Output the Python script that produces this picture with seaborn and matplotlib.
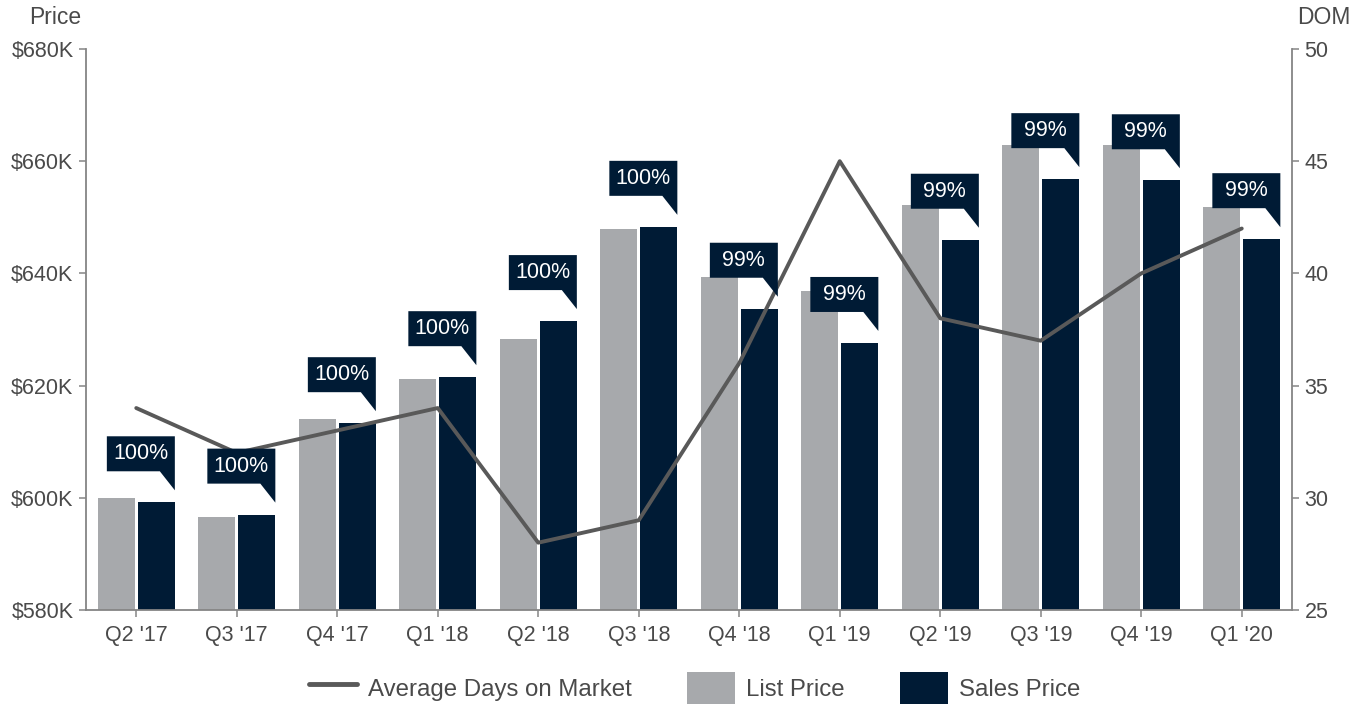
import numpy as np
import pandas as pd
import matplotlib.pyplot as plt
from matplotlib.patches import Polygon, Patch
from matplotlib.lines import Line2D
import seaborn as sns

# data (prices in $K)
quarters = ["Q2 '17", "Q3 '17", "Q4 '17", "Q1 '18", "Q2 '18", "Q3 '18",
            "Q4 '18", "Q1 '19", "Q2 '19", "Q3 '19", "Q4 '19", "Q1 '20"]
list_price = [600.0, 596.6, 614.0, 621.2, 628.3, 647.9, 639.4, 636.9, 652.2, 662.9, 662.9, 651.8]
sales_price = [599.2, 597.0, 613.3, 621.5, 631.5, 648.3, 633.7, 627.6, 646.0, 656.8, 656.6, 646.1]
avg_dom = [34, 32, 33, 34, 28, 29, 36, 45, 38, 37, 40, 42]
ratio_labels = ["100%", "100%", "100%", "100%", "100%", "100%",
                "99%", "99%", "99%", "99%", "99%", "99%"]

gray = "#A7A9AC"
navy = "#001B35"
line_col = "#595959"
spine_col = "#858585"
text_col = "#4a4a4a"

sns.set_style("white")
plt.rcParams['font.family'] = ['Liberation Sans', 'DejaVu Sans']

df = pd.DataFrame({
    "quarter": quarters * 2,
    "price": list_price + sales_price,
    "series": ["List Price"] * len(quarters) + ["Sales Price"] * len(quarters),
})

fig = plt.figure(figsize=(13.63, 7.07), dpi=100)
ax = fig.add_axes([86 / 1363, 1 - 610 / 707, (1292 - 86) / 1363, (610 - 49) / 707])

sns.barplot(data=df, x="quarter", y="price", hue="series", palette=[gray, navy],
            width=0.8, gap=0.08, linewidth=0, saturation=1, legend=False, ax=ax)
ax.set_ylim(580, 680)
ax.set_xlim(-0.5, len(quarters) - 0.5)
ax.set_yticks([580, 600, 620, 640, 660, 680])
ax.set_yticklabels([f"${v}K" for v in [580, 600, 620, 640, 660, 680]])
ax.set_xlabel("")
ax.set_ylabel("")

# DOM line on the right axis
ax2 = ax.twinx()
sns.lineplot(x=np.arange(len(quarters)), y=avg_dom, color=line_col, linewidth=2.8, ax=ax2)
ax2.set_ylim(25, 50)
ax2.set_yticks([25, 30, 35, 40, 45, 50])
ax2.set_xlim(-0.5, len(quarters) - 0.5)

for a in (ax, ax2):
    for s in ["left", "right", "bottom"]:
        a.spines[s].set_color(spine_col)
        a.spines[s].set_linewidth(1.3)
    a.spines["top"].set_visible(False)
ax.spines["right"].set_visible(False)
ax2.spines["left"].set_visible(False)
ax2.spines["bottom"].set_visible(False)

ax.tick_params(axis="y", left=True, length=5, width=1.1, color=spine_col, pad=4,
               labelsize=15.5, labelcolor=text_col)
ax.tick_params(axis="x", bottom=True, length=5, width=1.1, color=spine_col, pad=6,
               labelsize=15.5, labelcolor=text_col)
ax2.tick_params(axis="y", right=True, length=5, width=1.1, color=spine_col, pad=4,
                labelsize=15.5, labelcolor=text_col)

# callouts above the sales bars
fig.canvas.draw()
inv = ax2.transData.inverted()
sales_bars = ax.containers[1]
for bar, lab in zip(sales_bars, ratio_labels):
    X, Y = ax.transData.transform((bar.get_x() + bar.get_width(), bar.get_height()))
    pts = [(X - 68, Y + 66), (X, Y + 66), (X, Y + 12), (X - 15, Y + 31), (X - 68, Y + 31)]
    poly = Polygon(inv.transform(pts), closed=True, facecolor=navy, edgecolor="none",
                   zorder=5, clip_on=False)
    ax2.add_patch(poly)
    tx, ty = inv.transform((X - 34, Y + 48.5))
    ax2.text(tx, ty, lab, color="white", fontsize=15.5, ha="center", va="center", zorder=6)

fig.text(55 / 1363, 1 - 18 / 707, "Price", fontsize=16.5, color=text_col, ha="center", va="center")
fig.text(1324 / 1363, 1 - 18 / 707, "DOM", fontsize=16.5, color=text_col, ha="center", va="center")

handles = [Line2D([0], [0], color=line_col, linewidth=3.5),
           Patch(facecolor=gray, edgecolor="none"),
           Patch(facecolor=navy, edgecolor="none")]
fig.legend(handles, ["Average Days on Market", "List Price", "Sales Price"],
           loc="center", bbox_to_anchor=(0.5095, 1 - 688 / 707), ncol=3, frameon=False,
           fontsize=17.3, handlelength=2.0, handleheight=1.7, handletextpad=0.45,
           columnspacing=2.3, labelcolor=text_col)

fig.savefig("out.png", dpi=100)
